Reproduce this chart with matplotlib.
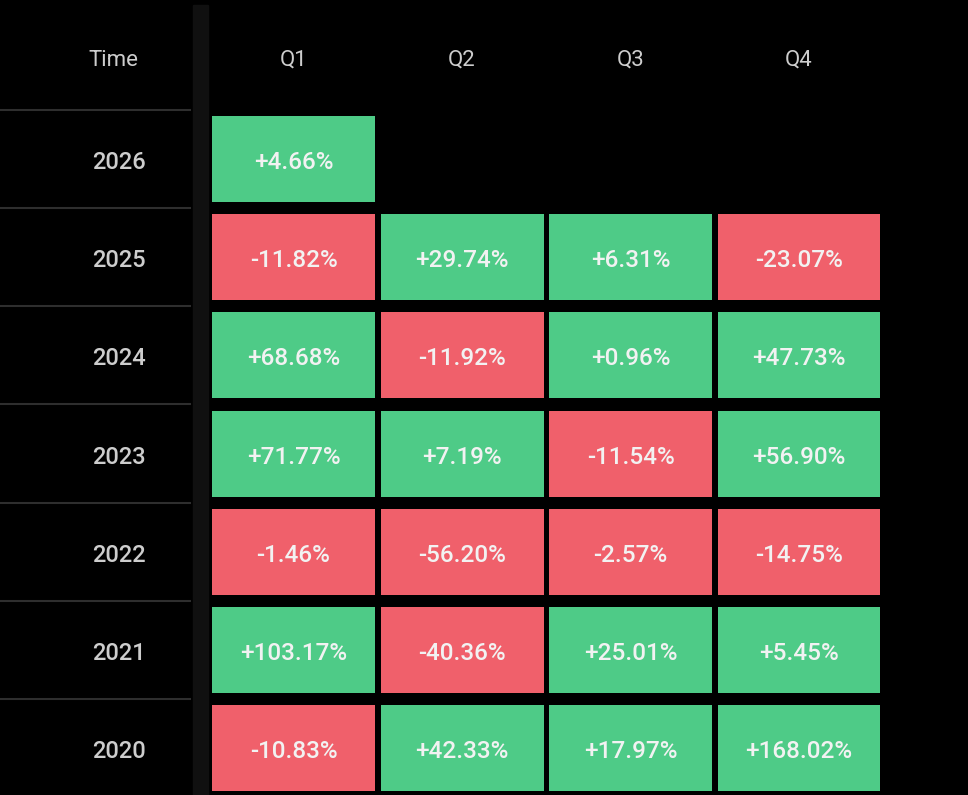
import numpy as np
import matplotlib.pyplot as plt
from matplotlib.patches import Rectangle

# dados
anos = ["2026", "2025", "2024", "2023", "2022", "2021", "2020"]
trimestres = ["Q1", "Q2", "Q3", "Q4"]
q1 = [4.66, -11.82, 68.68, 71.77, -1.46, 103.17, -10.83]
q2 = [None, 29.74, -11.92, 7.19, -56.20, -40.36, 42.33]
q3 = [None, 6.31, 0.96, -11.54, -2.57, 25.01, 17.97]
q4 = [None, -23.07, 47.73, 56.90, -14.75, 5.45, 168.02]

VERDE = "#4ecb87"
VERMELHO = "#f0606b"
FUNDO = "#000000"
COR_TEXTO = "#f2f2f2"
COR_ROTULO = "#cdcdcd"

plt.rcParams["font.family"] = ["Roboto", "DejaVu Sans"]

fig = plt.figure(figsize=(9.68, 7.95), dpi=100, facecolor=FUNDO)
ax = fig.add_axes([0, 0, 1, 1])
ax.set_facecolor(FUNDO)
ax.set_xlim(-1.742, 4.003)
ax.set_ylim(6.477, -1.619)
ax.axis("off")

# faixa escura entre os rótulos e a grade
ax.axvspan(-0.595, -0.505, ymin=0, ymax=0.994, color="#101010", zorder=0)

# linhas separadoras da coluna de anos
for i in range(-1, len(anos)):
    ax.plot([-1.742, -0.614], [i + 0.5, i + 0.5], color="#2e2e2e", lw=1.5, zorder=1)

# cabeçalho
dy = 0.035
ax.text(-1.07, -1.04 + dy, "Time", ha="center", va="center", color=COR_ROTULO, fontsize=16)
for j, q in enumerate(trimestres):
    ax.text(j, -1.04 + dy, q, ha="center", va="center", color=COR_ROTULO, fontsize=16)

larg, alt = 163 / 168.5, 86 / 98.2
colunas = [q1, q2, q3, q4]
for i, ano in enumerate(anos):
    ax.text(-1.035, i + dy, ano, ha="center", va="center", color=COR_ROTULO,
            fontsize=17, fontweight="medium")
    for j, col in enumerate(colunas):
        v = col[i]
        if v is None:
            continue
        cor = VERDE if v >= 0 else VERMELHO
        ax.add_patch(Rectangle((j - larg / 2, i - alt / 2), larg, alt,
                               facecolor=cor, edgecolor="none", zorder=2))
        ax.text(j, i + dy, f"{v:+.2f}%", ha="center", va="center",
                color=COR_TEXTO, fontsize=17.5, fontweight="medium", zorder=3)

fig.savefig("out.png", dpi=100, facecolor=FUNDO)
